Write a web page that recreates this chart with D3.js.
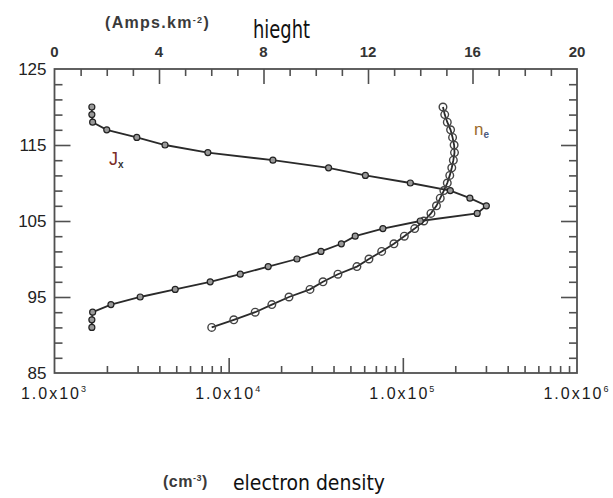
<!DOCTYPE html>
<html lang="en">
<head>
    <meta charset="UTF-8">
    <script src="https://d3js.org/d3.v7.min.js"></script>
    <title>hieght / electron density</title>
    <style>
        body { margin: 0; background: #fff; }
        svg { display: block; }
    </style>
</head>
<body>
    <div id="chart"></div>
    <script>
        // heights (km) shared by both profiles
        const heights = d3.range(91, 121);

        // current density Jx (Amps.km-2), top axis
        const jx = [1.43, 1.43, 1.46, 2.16, 3.28, 4.62, 5.96, 7.11, 8.18, 9.28,
                    10.2, 10.98, 11.51, 12.57, 14.0, 16.18, 16.53, 15.9, 15.15, 13.62,
                    11.9, 10.49, 8.36, 5.87, 4.23, 3.15, 2.0, 1.46, 1.43, 1.43];

        // electron density ne (cm-3), bottom log axis
        const ne = [7990, 10700, 14200, 17700, 22200, 29300, 34800, 42400, 54500, 63900,
                    75600, 88900, 102000, 117000, 132000, 145000, 156000, 164000, 172000, 180000,
                    186000, 191000, 195000, 198000, 197000, 193000, 188000, 180000, 174000, 170000];

        const heightLabels = [85, 95, 105, 115, 125];
        const topLabels = [0, 4, 8, 12, 16, 20];
        const logLabels = [1e3, 1e4, 1e5, 1e6];

        const width = 613, height = 498;
        const boxL = 54.5, boxR = 577, boxT = 69, boxB = 373;

        const svg = d3.select("#chart").append("svg")
            .attr("width", width)
            .attr("height", height)
            .style("font-family", "'Liberation Sans', Arial, sans-serif");

        const y = d3.scaleLinear().domain([85, 125]).range([boxB, boxT]);
        const xTop = d3.scaleLinear().domain([0, 20]).range([boxL, boxR]);
        const xLog = d3.scaleLog().domain([1e3, 1e6]).range([boxL, boxR]);

        const axisColor = "#505050";

        // tick helper: draws tick marks only, pointing into the box
        function ticks(axis, at, values, size) {
            const g = svg.append("g")
                .attr("transform", at)
                .call(axis.tickValues(values).tickSize(-size).tickSizeOuter(0).tickFormat(""));
            g.select(".domain").remove();
            g.selectAll("line").attr("stroke", axisColor).attr("stroke-width", 1.6);
        }

        const oddH = d3.range(85, 126, 2);
        const minorH = oddH.filter(d => (d - 5) % 10 !== 0);
        const majorH = oddH.filter(d => (d - 5) % 10 === 0 && d > 85 && d < 125);

        ticks(d3.axisLeft(y), `translate(${boxL},0)`, minorH, 8);
        ticks(d3.axisLeft(y), `translate(${boxL},0)`, majorH, 16);
        ticks(d3.axisRight(y), `translate(${boxR},0)`, minorH, 8);
        ticks(d3.axisRight(y), `translate(${boxR},0)`, majorH, 16);

        const topAll = d3.range(1, 20);
        ticks(d3.axisTop(xTop), `translate(0,${boxT})`, topAll.filter(d => d % 4 !== 0), 7);
        ticks(d3.axisTop(xTop), `translate(0,${boxT})`, topAll.filter(d => d % 4 === 0), 15);

        const logMinor = [];
        [1e3, 1e4, 1e5].forEach(p => { for (let m = 2; m <= 9; m++) logMinor.push(m * p); });
        ticks(d3.axisBottom(xLog), `translate(0,${boxB})`, logMinor, 7);
        ticks(d3.axisBottom(xLog), `translate(0,${boxB})`, [1e4, 1e5], 15);

        // frame
        svg.append("rect")
            .attr("x", boxL).attr("y", boxT)
            .attr("width", boxR - boxL).attr("height", boxB - boxT)
            .attr("fill", "none")
            .attr("stroke", axisColor)
            .attr("stroke-width", 1.8);

        // left labels
        svg.selectAll(".hlab").data(heightLabels).join("text")
            .attr("x", boxL - 8)
            .attr("y", d => y(d))
            .attr("dy", "0.36em")
            .attr("text-anchor", "end")
            .attr("font-size", 17)
            .attr("fill", "#222")
            .text(d => d);

        // top labels
        svg.selectAll(".tlab").data(topLabels).join("text")
            .attr("x", d => xTop(d))
            .attr("y", 57)
            .attr("text-anchor", "middle")
            .attr("font-size", 15)
            .attr("font-weight", "bold")
            .attr("fill", "#333")
            .text(d => d);

        // bottom labels 1.0x10^n
        const blab = svg.selectAll(".blab").data(logLabels).join("text")
            .attr("x", d => xLog(d))
            .attr("y", 399)
            .attr("text-anchor", "middle")
            .attr("font-size", 16)
            .attr("letter-spacing", 2)
            .attr("fill", "#1a1a1a");
        blab.append("tspan").text("1.0x10");
        blab.append("tspan")
            .attr("dy", -7)
            .attr("font-size", 9)
            .text(d => Math.round(Math.log10(d)));

        // profiles
        const lineJ = d3.line().x(d => xTop(d[0])).y(d => y(d[1]));
        const lineN = d3.line().x(d => xLog(d[0])).y(d => y(d[1]));
        const jData = jx.map((v, i) => [v, heights[i]]);
        const nData = ne.map((v, i) => [v, heights[i]]);

        svg.append("path").datum(nData)
            .attr("d", lineN)
            .attr("fill", "none")
            .attr("stroke", "#2a2a2a")
            .attr("stroke-width", 1.8);
        svg.append("path").datum(jData)
            .attr("d", lineJ)
            .attr("fill", "none")
            .attr("stroke", "#2a2a2a")
            .attr("stroke-width", 1.8);

        svg.selectAll(".nmark").data(nData).join("circle")
            .attr("cx", d => xLog(d[0]))
            .attr("cy", d => y(d[1]))
            .attr("r", 3.8)
            .attr("fill", "none")
            .attr("stroke", "#444")
            .attr("stroke-width", 1.4);

        svg.selectAll(".jmark").data(jData).join("circle")
            .attr("cx", d => xTop(d[0]))
            .attr("cy", d => y(d[1]))
            .attr("r", 3)
            .attr("fill", "#999")
            .attr("stroke", "#222")
            .attr("stroke-width", 1.2);

        // curve labels
        const jl = svg.append("text")
            .attr("x", 109).attr("y", 165)
            .attr("font-size", 18)
            .attr("fill", "#7b2d26");
        jl.append("tspan").text("J");
        jl.append("tspan").attr("dy", 3).attr("font-size", 10).attr("font-weight", "bold").attr("fill", "#333").text("x");

        const nl = svg.append("text")
            .attr("x", 474).attr("y", 135)
            .attr("font-size", 17)
            .attr("fill", "#9a6a2a");
        nl.append("tspan").text("n");
        nl.append("tspan").attr("dy", 3).attr("font-size", 10).attr("font-weight", "bold").attr("fill", "#4a5a80").text("e");

        // axis titles
        const amps = svg.append("text")
            .attr("x", 105).attr("y", 28)
            .attr("font-size", 16)
            .attr("font-weight", "bold")
            .attr("letter-spacing", 1.3)
            .attr("fill", "#3a3a3a");
        amps.append("tspan").text("(Amps.km");
        amps.append("tspan").attr("dy", -5).attr("font-size", 9).text("-2");
        amps.append("tspan").attr("dy", 5).text(")");

        svg.append("text")
            .attr("x", 253).attr("y", 38)
            .attr("font-size", 24)
            .attr("font-family", "'Liberation Sans Narrow', 'DejaVu Sans Condensed', sans-serif")
            .attr("textLength", 57)
            .attr("lengthAdjust", "spacingAndGlyphs")
            .attr("fill", "#111")
            .text("hieght");

        const cm = svg.append("text")
            .attr("x", 163).attr("y", 487)
            .attr("font-size", 16)
            .attr("font-weight", "bold")
            .attr("letter-spacing", 0.5)
            .attr("fill", "#3a3a3a");
        cm.append("tspan").text("(cm");
        cm.append("tspan").attr("dy", -6).attr("font-size", 9).text("-3");
        cm.append("tspan").attr("dy", 6).text(")");

        svg.append("text")
            .attr("x", 233).attr("y", 490)
            .attr("font-size", 22)
            .attr("font-family", "'Liberation Sans Narrow', 'DejaVu Sans Condensed', sans-serif")
            .attr("textLength", 152)
            .attr("lengthAdjust", "spacingAndGlyphs")
            .attr("fill", "#111")
            .text("electron density");
    </script>
</body>
</html>
